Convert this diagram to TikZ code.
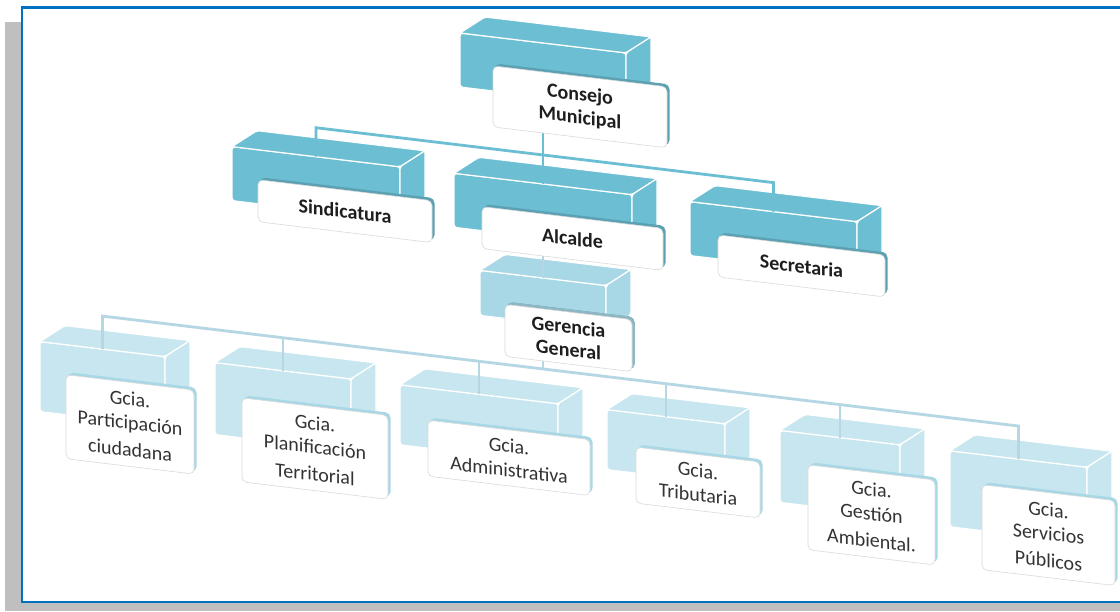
\documentclass[tikz,border=0pt]{standalone}
\usepackage{fontspec}
\setmainfont{Carlito}
\usetikzlibrary{shadows}

\definecolor{azul}{RGB}{108,190,211}
\definecolor{azulclaro}{RGB}{168,215,229}
\definecolor{celeste}{RGB}{200,230,239}
\definecolor{lineaclara}{RGB}{180,215,227}
\definecolor{marco}{RGB}{0,112,192}
\definecolor{sombra}{RGB}{191,191,191}
\definecolor{texto}{RGB}{30,30,30}

% cuerpo de cada caja: frente, tapa y lado
\newcommand{\bloque}[6]{%
  \node[cuerpo, fill=#6, minimum width=#4, minimum height=#5] (#1-b) at (#2,#3) {};
  \filldraw[cara, fill=#6] (#1-b.north west) -- ++(25,-19) -- ++(#4,0) -- (#1-b.north east) -- cycle;
  \filldraw[cara, fill=#6] (#1-b.north east) -- ++(25,-19) -- ++(0,#5) -- (#1-b.south east) -- cycle;
}

\begin{document}
\begin{tikzpicture}[x=1pt, y=-1pt,
  cuerpo/.style={draw=white, line width=1.2pt, rounded corners=3pt, inner sep=0pt, outer sep=0pt, anchor=north west},
  cara/.style={draw=white, line width=1.2pt, rounded corners=2pt},
  etiqueta/.style={fill=white, draw=black!15, line width=0.6pt, rounded corners=5pt, inner sep=0pt, outer sep=0pt, anchor=north west, align=center},
  superior/.style={etiqueta, text=texto, font=\bfseries\fontsize{20}{23}\selectfont,
    general shadow={fill=azul!85!black, shadow xshift=2.5pt, shadow yshift=2.5pt}},
  medio/.style={superior, general shadow={fill=azulclaro!85!black, shadow xshift=2.5pt, shadow yshift=2.5pt}},
  inferior/.style={etiqueta, text=black!80, font=\fontsize{20}{24}\selectfont,
    general shadow={fill=azulclaro, shadow xshift=2.5pt, shadow yshift=2.5pt}},
  enlace/.style={azul, line width=2.8pt},
  enlace2/.style={lineaclara, line width=2.8pt}]

\useasboundingbox (0,0) rectangle (1120,611);

% marco
\fill[sombra] (5,22) rectangle (1120,611);
\filldraw[fill=white, draw=marco, line width=2.5pt] (22,7.3) rectangle (1135,602);

\begin{scope}[shift={(560,0)}, yslant=-0.12, shift={(-560,0)}, transform shape]

% nivel 1
\bloque{consejo}{460}{45}{166}{54}{azul}

% nivel 2
\bloque{sindicatura}{232}{186}{168}{54}{azul}
\bloque{alcalde}{454}{186}{178}{54}{azul}
\bloque{secretaria}{690}{186}{167}{54}{azul}

% nivel 3
\bloque{gerencia}{480}{280}{126}{45}{azulclaro}

% nivel 4
\bloque{participacion}{40}{404}{125}{70}{celeste}
\bloque{planificacion}{215}{404}{136}{72}{celeste}
\bloque{administrativa}{400}{404}{158}{60}{celeste}
\bloque{tributaria}{607}{404}{118}{60}{celeste}
\bloque{gestion}{780}{404}{120}{72}{celeste}
\bloque{servicios}{950}{404}{137}{76}{celeste}

% lineas
\coordinate (barra1-i) at (316,157);
\coordinate (barra1-d) at (773.5,157);
\coordinate (barra2-i) at (102.5,371);
\coordinate (barra2-d) at (1018.5,371);

\draw[enlace] (sindicatura-b.north) -- (barra1-i) -- (barra1-d) -- (secretaria-b.north);
\draw[enlace] (consejo-b.south) -- (alcalde-b.north);
\draw[enlace2] (alcalde-b.south) -- (gerencia-b.north);
\draw[enlace2] (participacion-b.north) -- (barra2-i) -- (barra2-d) -- (servicios-b.north);
\draw[enlace2] (gerencia-b.south) -- ++(0,46);
\foreach \n in {planificacion, administrativa, tributaria, gestion} {
  \draw[enlace2] (\n-b.north) -- ++(0,-33);
}

% etiquetas
\node[superior, minimum width=174, minimum height=61] (consejo) at (493,74) {Consejo\\Municipal};
\node[superior, minimum width=174, minimum height=42] (sindicatura) at (258,216) {Sindicatura};
\node[superior, minimum width=181, minimum height=42] (alcalde) at (482,216) {Alcalde};
\node[superior, minimum width=167, minimum height=42] (secretaria) at (718,216) {Secretaria};
\node[medio, minimum width=127, minimum height=52] (gerencia) at (505,311) {Gerencia\\General};

\node[inferior, minimum width=128, minimum height=84] (participacion) at (66,434) {Gcia.\\Participación\\[3pt]ciudadana};
\node[inferior, minimum width=146, minimum height=84] (planificacion) at (242,436) {Gcia.\\Planificación\\[3pt]Territorial};
\node[inferior, minimum width=162, minimum height=56] (administrativa) at (428,436) {Gcia.\\Administrativa};
\node[inferior, minimum width=124, minimum height=56] (tributaria) at (636,438) {Gcia.\\Tributaria};
\node[inferior, minimum width=127, minimum height=85] (gestion) at (808,435) {Gcia.\\Gestión\\[3pt]Ambiental.};
\node[inferior, minimum width=133, minimum height=85] (servicios) at (982,434) {Gcia.\\Servicios\\[3pt]Públicos};

\end{scope}
\end{tikzpicture}
\end{document}
